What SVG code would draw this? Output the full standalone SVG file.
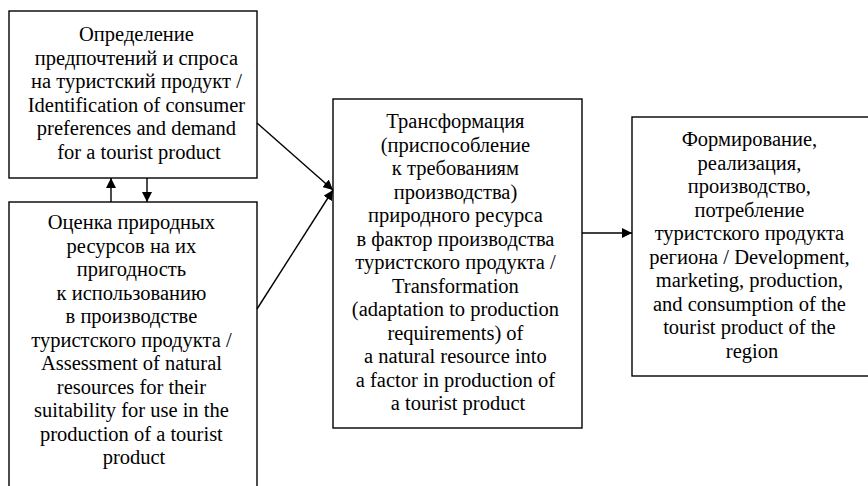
<svg xmlns="http://www.w3.org/2000/svg" width="868" height="486" viewBox="0 0 868 486">
<style>
.box{fill:#fff;stroke:#000;stroke-width:1.4}
.t{font-family:'Liberation Serif','Times New Roman',serif;font-size:20.5px;fill:#000;text-anchor:middle}
.c{stroke:#000;stroke-width:1.4;fill:none}
</style>
<defs>
<marker id="ah" viewBox="0 0 10 10" refX="10" refY="5" markerWidth="10" markerHeight="10" markerUnits="userSpaceOnUse" orient="auto">
<path d="M0,0 L10,5 L0,10 z" fill="#000"/>
</marker>
</defs>
<rect width="868" height="486" fill="#fff"/>
<g id="node1">
<rect class="box" x="9" y="11" width="248" height="167"/>
<text class="t">
<tspan x="139" y="41">Определение</tspan>
<tspan x="139" y="64.6">предпочтений и спроса</tspan>
<tspan x="139" y="88.2">на туристский продукт /</tspan>
<tspan x="139" y="111.8">Identification of consumer</tspan>
<tspan x="139" y="135.4">preferences and demand</tspan>
<tspan x="139" y="159">for a tourist product</tspan>
</text>
</g>
<g id="node2">
<rect class="box" x="9" y="202" width="248" height="300"/>
<text class="t">
<tspan x="134" y="229">Оценка природных</tspan>
<tspan x="134" y="252.5">ресурсов на их</tspan>
<tspan x="134" y="276">пригодность</tspan>
<tspan x="134" y="299.5">к использованию</tspan>
<tspan x="134" y="323">в производстве</tspan>
<tspan x="134" y="346.5">туристского продукта /</tspan>
<tspan x="134" y="370">Assessment of natural</tspan>
<tspan x="134" y="393.5">resources for their</tspan>
<tspan x="134" y="417">suitability for use in the</tspan>
<tspan x="134" y="440.5">production of a tourist</tspan>
<tspan x="134" y="464">product</tspan>
</text>
</g>
<g id="node3">
<rect class="box" x="333" y="99" width="249" height="329"/>
<text class="t">
<tspan x="458" y="128">Трансформация</tspan>
<tspan x="458" y="151.5">(приспособление</tspan>
<tspan x="458" y="175">к требованиям</tspan>
<tspan x="458" y="198.5">производства)</tspan>
<tspan x="458" y="222">природного ресурса</tspan>
<tspan x="458" y="245.5">в фактор производства</tspan>
<tspan x="458" y="269">туристского продукта /</tspan>
<tspan x="458" y="292.5">Transformation</tspan>
<tspan x="458" y="316">(adaptation to production</tspan>
<tspan x="458" y="339.5">requirements) of</tspan>
<tspan x="458" y="363">a natural resource into</tspan>
<tspan x="458" y="386.5">a factor in production of</tspan>
<tspan x="458" y="410">a tourist product</tspan>
</text>
</g>
<g id="node4">
<rect class="box" x="632" y="117" width="245" height="259"/>
<text class="t">
<tspan x="752" y="146">Формирование,</tspan>
<tspan x="752" y="169.5">реализация,</tspan>
<tspan x="752" y="193">производство,</tspan>
<tspan x="752" y="216.5">потребление</tspan>
<tspan x="752" y="240">туристского продукта</tspan>
<tspan x="752" y="263.5">региона / Development,</tspan>
<tspan x="752" y="287">marketing, production,</tspan>
<tspan x="752" y="310.5">and consumption of the</tspan>
<tspan x="752" y="334">tourist product of the</tspan>
<tspan x="752" y="357.5">region</tspan>
</text>
</g>
<g id="connectors">
<line class="c" x1="111" y1="202" x2="111" y2="178" marker-end="url(#ah)"/>
<line class="c" x1="147" y1="178" x2="147" y2="202" marker-end="url(#ah)"/>
<line class="c" x1="257" y1="123" x2="333" y2="190" marker-end="url(#ah)"/>
<line class="c" x1="257" y1="309" x2="333" y2="190" marker-end="url(#ah)"/>
<line class="c" x1="582" y1="233" x2="632" y2="233" marker-end="url(#ah)"/>
</g>
</svg>
